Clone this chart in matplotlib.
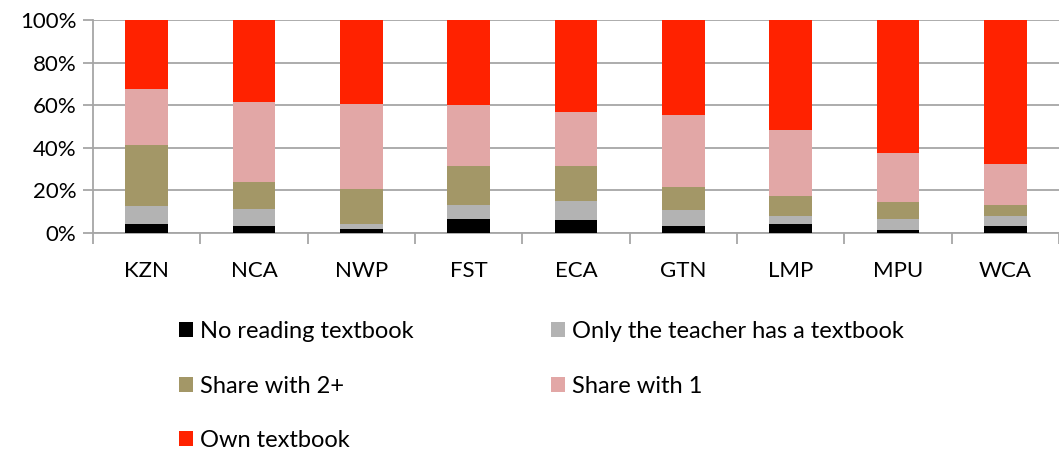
import matplotlib
matplotlib.use('Agg')
import matplotlib.pyplot as plt
from matplotlib.patches import Patch
import numpy as np

# data (percent of learners)
provinces = ['KZN', 'NCA', 'NWP', 'FST', 'ECA', 'GTN', 'LMP', 'MPU', 'WCA']
no_book = [4.2, 3.3, 1.9, 6.6, 6.3, 3.3, 4.4, 1.6, 3.3]
teacher_only = [8.5, 8.0, 2.3, 6.4, 8.7, 7.4, 3.4, 5.0, 4.5]
share_2plus = [28.7, 12.8, 16.5, 18.6, 16.6, 11.1, 9.6, 8.1, 5.4]
share_1 = [26.3, 37.3, 39.8, 28.6, 25.0, 33.7, 30.9, 22.9, 19.1]
own_book = [32.3, 38.6, 39.5, 39.8, 43.4, 44.5, 51.7, 62.4, 67.7]

series = ['No reading textbook', 'Only the teacher has a textbook',
          'Share with 2+', 'Share with 1', 'Own textbook']
colors = ['#000000', '#b3b3b3', '#a39767', '#e2a7a6', '#ff2200']

plt.rcParams['font.family'] = ['Lato', 'DejaVu Sans']

fig = plt.figure(figsize=(10.59, 4.5), dpi=100)
ax = fig.add_axes([93 / 1059, 1 - 233 / 450, 1 - 93 / 1059, 213 / 450])

x = np.arange(len(provinces))
data = [no_book, teacher_only, share_2plus, share_1, own_book]
bottom = np.zeros(len(provinces))
for vals, col in zip(data, colors):
    ax.bar(x, vals, bottom=bottom, width=0.4, color=col, zorder=3)
    bottom += np.array(vals)

ax.set_xlim(-0.5, len(provinces) - 0.5)
ax.set_ylim(0, 100)
ax.set_yticks(np.arange(0, 101, 20))
ax.set_yticklabels([f'{v}%' for v in range(0, 101, 20)], fontsize=16)
ax.grid(axis='y', color='#a6a6a6', linewidth=1.3, zorder=0)

# category labels centred, tick marks on the boundaries
ax.set_xticks(x)
ax.set_xticklabels(provinces, fontsize=16)
ax.tick_params(axis='x', which='major', length=0, pad=20)
ax.set_xticks(np.arange(-0.5, len(provinces), 1), minor=True)
ax.tick_params(axis='x', which='minor', length=8, color='#a6a6a6', width=1.3)
ax.tick_params(axis='y', length=7, color='#a6a6a6', width=1.3, pad=5)

for s in ['top', 'right']:
    ax.spines[s].set_visible(False)
for s in ['left', 'bottom']:
    ax.spines[s].set_color('#a6a6a6')
    ax.spines[s].set_linewidth(1.3)

# legend filled column by column -> reorder to look row-wise
order = [0, 2, 4, 1, 3]
handles = [Patch(facecolor=colors[i], edgecolor='none') for i in order]
labels = [series[i] for i in order]
fig.legend(handles, labels, ncol=2, loc='upper left',
           bbox_to_anchor=(158 / 1059, 1 - 300 / 450), frameon=False,
           fontsize=17, handlelength=0.6, handleheight=0.6,
           handletextpad=0.3, columnspacing=5.8, labelspacing=1.42)

fig.savefig('out.png', dpi=100)
